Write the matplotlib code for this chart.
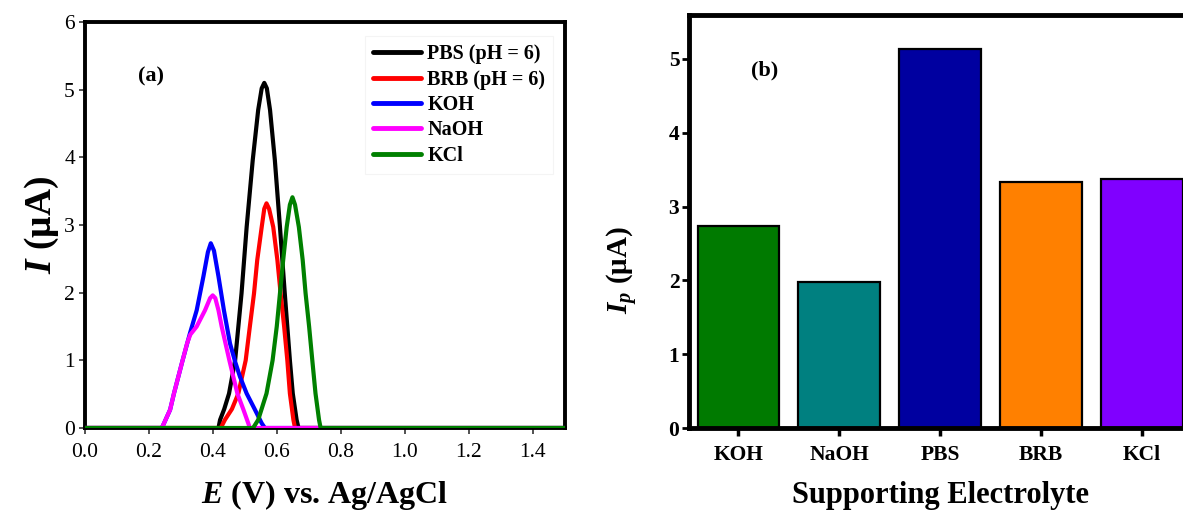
import matplotlib
matplotlib.use("Agg")
import matplotlib.pyplot as plt

plt.rcParams['font.family'] = ['Liberation Serif', 'DejaVu Serif']
plt.rcParams['mathtext.fontset'] = 'custom'
plt.rcParams['mathtext.rm'] = 'Liberation Serif'
plt.rcParams['mathtext.it'] = 'Liberation Serif:italic'
plt.rcParams['mathtext.bf'] = 'Liberation Serif:bold'
plt.rcParams['mathtext.bfit'] = 'Liberation Serif:italic:bold'

# ---- Panel (a): DPV curves ----
pbs_E = [0.0, 0.418, 0.423, 0.436, 0.451, 0.47, 0.49, 0.506, 0.525, 0.542, 0.553, 0.561,
         0.569, 0.579, 0.594, 0.610, 0.625, 0.641, 0.650, 0.662, 0.668, 1.5]
pbs_I = [0.0, 0.0, 0.12, 0.28, 0.51, 1.00, 1.99, 2.97, 3.96, 4.70, 5.02, 5.10,
         5.02, 4.70, 3.96, 2.97, 1.99, 1.00, 0.51, 0.12, 0.0, 0.0]

brb_E = [0.0, 0.425, 0.438, 0.46, 0.480, 0.503, 0.516, 0.529, 0.539, 0.553, 0.561, 0.568,
         0.576, 0.589, 0.602, 0.612, 0.623, 0.633, 0.641, 0.652, 0.657, 1.5]
brb_I = [0.0, 0.0, 0.12, 0.28, 0.51, 1.00, 1.50, 1.99, 2.48, 2.97, 3.24, 3.32,
         3.24, 2.97, 2.48, 1.99, 1.50, 1.00, 0.51, 0.12, 0.0, 0.0]

koh_E = [0.0, 0.241, 0.248, 0.267, 0.279, 0.306, 0.329, 0.350, 0.371, 0.385, 0.394, 0.404,
         0.418, 0.435, 0.454, 0.470, 0.485, 0.506, 0.532, 0.553, 0.563, 1.5]
koh_I = [0.0, 0.0, 0.07, 0.27, 0.51, 1.00, 1.40, 1.74, 2.24, 2.60, 2.73, 2.62,
         2.24, 1.74, 1.25, 0.98, 0.76, 0.51, 0.27, 0.07, 0.0, 0.0]

naoh_E = [0.0, 0.241, 0.248, 0.267, 0.279, 0.306, 0.320, 0.330, 0.340, 0.350, 0.376, 0.392,
          0.400, 0.408, 0.418, 0.428, 0.452, 0.477, 0.496, 0.511, 0.516, 0.73]
naoh_I = [0.0, 0.0, 0.07, 0.27, 0.51, 1.00, 1.25, 1.38, 1.44, 1.50, 1.74, 1.92,
          1.96, 1.92, 1.74, 1.50, 1.00, 0.51, 0.27, 0.07, 0.0, 0.0]

kcl_E = [0.0, 0.526, 0.542, 0.568, 0.587, 0.600, 0.610, 0.620, 0.631, 0.641, 0.649, 0.657,
         0.669, 0.681, 0.690, 0.701, 0.711, 0.721, 0.732, 0.737, 1.5]
kcl_I = [0.0, 0.0, 0.12, 0.51, 1.00, 1.50, 1.99, 2.48, 2.97, 3.30, 3.41, 3.30,
         2.97, 2.48, 1.99, 1.50, 1.00, 0.51, 0.12, 0.0, 0.0]

curve_labels = ['PBS (pH = 6)', 'BRB (pH = 6)', 'KOH', 'NaOH', 'KCl']
curve_colors = ['#000000', '#ff0000', '#0000ff', '#ff00ff', '#008000']

# ---- Panel (b): peak currents ----
electrolytes = ['KOH', 'NaOH', 'PBS', 'BRB', 'KCl']
peak_current = [2.74, 1.98, 5.13, 3.33, 3.37]
bar_colors = ['#007a00', '#008080', '#0000a0', '#ff8000', '#8000ff']

W, H = 1183, 512
fig = plt.figure(figsize=(W / 100, H / 100), dpi=100)

# Panel (a)
ax1 = fig.add_axes([84.6 / W, 1 - 428 / H, (565 - 84.6) / W, (428 - 22) / H])
curves = [(pbs_E, pbs_I), (brb_E, brb_I), (koh_E, koh_I), (naoh_E, naoh_I), (kcl_E, kcl_I)]
for i, ((e, c), lab, col) in enumerate(zip(curves, curve_labels, curve_colors)):
    ax1.plot(e, c, color=col, lw=3.0, label=lab, zorder=2 + i,
             solid_joinstyle='round', solid_capstyle='round')
ax1.set_xlim(0, 1.5)
ax1.set_ylim(0, 6)
ax1.set_xticks([0.0, 0.2, 0.4, 0.6, 0.8, 1.0, 1.2, 1.4])
ax1.set_xticklabels(['0.0', '0.2', '0.4', '0.6', '0.8', '1.0', '1.2', '1.4'])
ax1.set_yticks([0, 1, 2, 3, 4, 5, 6])
ax1.tick_params(direction='out', length=4, width=1.2, labelsize=15.5, color='#333333')
ax1.tick_params(axis='x', pad=7)
ax1.tick_params(axis='y', pad=3)
for s in ax1.spines.values():
    s.set_linewidth(2.8)
ax1.set_xlabel(r'$\mathbfit{E}$ (V) vs. Ag/AgCl', fontsize=23, fontweight='bold', labelpad=11)
ax1.set_ylabel(r'$\mathbfit{I}$ (μA)', fontsize=27, fontweight='bold', labelpad=2)
ax1.text(0.207, 5.19, '(a)', fontsize=16, fontweight='bold', ha='center', va='center')
leg = ax1.legend(loc='upper right', bbox_to_anchor=(0.997, 0.99),
                 prop={'weight': 'bold', 'size': 14.5}, handlelength=2.4, handletextpad=0.3,
                 labelspacing=0.27, borderpad=0.4, frameon=True, fancybox=False)
leg.get_frame().set_edgecolor('#f2f2f2')
leg.get_frame().set_linewidth(0.8)
for ln in leg.get_lines():
    ln.set_linewidth(3.5)
    ln.set_solid_capstyle('round')

# Panel (b)
x0 = 689
unit = 100.9
xl = (-0.49, 4.5)
ax2 = fig.add_axes([x0 / W, 1 - 428 / H, (xl[1] - xl[0]) * unit / W, (5.6 * 73.8) / H])
pos = list(range(len(electrolytes)))
ax2.bar(pos, peak_current, width=0.81, color=bar_colors, edgecolor='black', linewidth=1.6, zorder=2)
ax2.set_xlim(*xl)
ax2.set_ylim(0, 5.6)
ax2.set_xticks(pos)
ax2.set_xticklabels(electrolytes, fontsize=15.5, fontweight='bold')
ax2.set_yticks([0, 1, 2, 3, 4, 5])
ax2.tick_params(axis='y', direction='out', length=5, width=2, labelsize=15.5, pad=2)
ax2.tick_params(axis='x', direction='out', length=6, width=2.5, labelsize=15.5, pad=6)
for lbl in ax2.get_yticklabels():
    lbl.set_fontweight('bold')
for s in ax2.spines.values():
    s.set_linewidth(3.5)
ax2.set_xlabel('Supporting Electrolyte', fontsize=22, fontweight='bold', labelpad=12)
ax2.set_ylabel(r'$\mathbfit{I}_{\mathbfit{p}}$ (μA)', fontsize=21, fontweight='bold')
ax2.yaxis.set_label_coords(-0.097, 0.383)
ax2.text(0.26, 4.85, '(b)', fontsize=16, fontweight='bold', ha='center', va='center')

fig.savefig('out.png', dpi=100)
